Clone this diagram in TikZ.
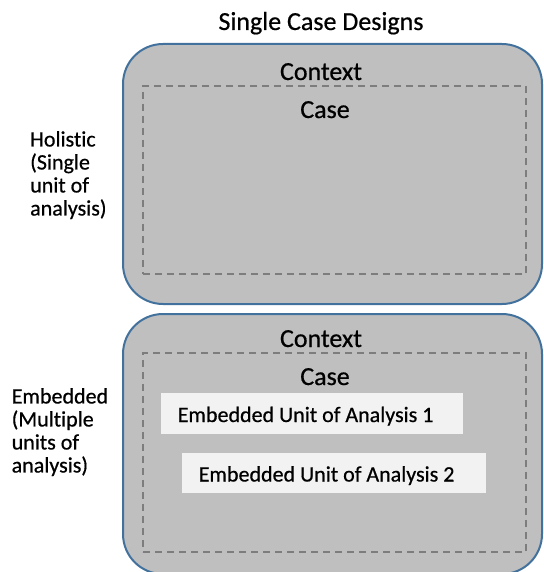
\documentclass[tikz,border=0pt]{standalone}
\usepackage{fontspec}
\setmainfont{Carlito}[Ligatures=NoCommon, FakeBold=0.6]
\definecolor{ctxblue}{RGB}{65,113,156}
\definecolor{ctxfill}{RGB}{191,191,191}
\definecolor{dashgray}{RGB}{125,125,125}
\definecolor{unitfill}{RGB}{242,242,242}
\begin{document}
\begin{tikzpicture}[x=1pt,y=-1pt,
  ctxbox/.style={draw=ctxblue, line width=2pt, fill=ctxfill, rounded corners=40pt,
    anchor=north west, inner sep=0pt, outer sep=0pt},
  casebox/.style={draw=dashgray, line width=1.8pt, dash pattern=on 7pt off 5pt,
    anchor=north west, inner sep=0pt, outer sep=0pt},
  unitbox/.style={fill=unitfill, draw=none, anchor=north west, inner sep=0pt, outer sep=0pt},
  bigtext/.style={font=\fontsize{26}{30}\selectfont, inner sep=0pt, anchor=base},
  unittext/.style={font=\fontsize{22}{26}\selectfont, inner sep=0pt, anchor=base west},
  sidetext/.style={font=\fontsize{22}{23}\selectfont, align=left, inner sep=0pt, anchor=north west}]
  \useasboundingbox (0,0) rectangle (543,572);
  \clip (0,0) rectangle (543,572);

  % title
  \node[bigtext] (title) at (321,30) {Single Case Designs};

  % holistic design: context and case
  \node[ctxbox, minimum width=419pt, minimum height=260pt] (ctxA) at (123,44) {};
  \node[casebox, minimum width=383pt, minimum height=188pt] (caseA) at (143,86) {};
  \node[bigtext] (ctxAlbl) at (321,80) {Context};
  \node[bigtext] (caseAlbl) at (325,118) {Case};
  \node[sidetext] (holistic) at (30,131) {Holistic\\(Single\\unit of\\analysis)};

  % embedded design: context, case and units of analysis
  \node[ctxbox, minimum width=419pt, minimum height=260pt] (ctxB) at (123,314) {};
  \node[casebox, minimum width=383pt, minimum height=199pt] (caseB) at (143,353) {};
  \node[bigtext] (ctxBlbl) at (321,347) {Context};
  \node[bigtext] (caseBlbl) at (325,385) {Case};
  \node[unitbox, minimum width=302pt, minimum height=41pt] (unitA) at (161,393) {};
  \node[unittext] (unitAlbl) at (177.5,422) {Embedded Unit of Analysis 1};
  \node[unitbox, minimum width=304pt, minimum height=40pt] (unitB) at (182,453) {};
  \node[unittext] (unitBlbl) at (198.5,481.5) {Embedded Unit of Analysis 2};
  \node[sidetext] (embedded) at (11.5,388) {Embedded\\(Multiple\\units of\\analysis)};
\end{tikzpicture}
\end{document}
